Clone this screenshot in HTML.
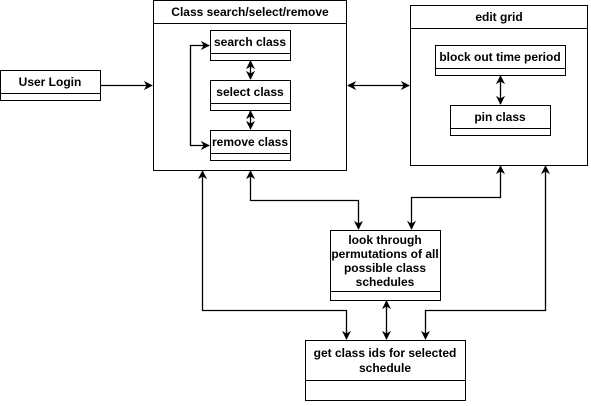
<!DOCTYPE html>
<html><head><style>body{margin:0;background:#fff}</style></head><body>
<svg width="591" height="401" xmlns="http://www.w3.org/2000/svg" font-family="Liberation Sans, Arial, sans-serif" font-weight="bold" font-size="12">
<defs><marker id="a" viewBox="0 0 10 10" refX="9" refY="5" markerWidth="7" markerHeight="7" orient="auto-start-reverse"><path d="M0,0 L10,5 L0,10 L3,5z" fill="#000"/></marker></defs>
<g fill="#fff" stroke="#000">
<rect x="0.5" y="70.5" width="100" height="30"/><line x1="0" y1="93.5" x2="101" y2="93.5"/>
<rect x="153.5" y="0.5" width="193" height="170"/><line x1="153" y1="23.5" x2="347" y2="23.5"/>
<rect x="210.5" y="30.5" width="80" height="30"/><line x1="210" y1="53.5" x2="291" y2="53.5"/>
<rect x="210.5" y="80.5" width="80" height="30"/><line x1="210" y1="103.5" x2="291" y2="103.5"/>
<rect x="210.5" y="130.5" width="80" height="30"/><line x1="210" y1="153.5" x2="291" y2="153.5"/>
<rect x="410.5" y="5.5" width="177" height="160"/><line x1="410" y1="28.5" x2="588" y2="28.5"/>
<rect x="435.5" y="45.5" width="130" height="30"/><line x1="435" y1="68.5" x2="566" y2="68.5"/>
<rect x="450.5" y="105.5" width="100" height="30"/><line x1="450" y1="128.5" x2="551" y2="128.5"/>
<rect x="330.5" y="230.5" width="110" height="70"/><line x1="330" y1="291.5" x2="441" y2="291.5"/>
<rect x="305.5" y="340.5" width="160" height="60"/><line x1="305" y1="380.5" x2="466" y2="380.5"/>
</g>
<g fill="none" stroke="#000" stroke-width="1.3">
<path d="M100,85.5 H152" marker-end="url(#a)"/>
<path d="M209,45.5 H190.5 V145.5 H209" marker-start="url(#a)" marker-end="url(#a)"/>
<path d="M250.5,61 V79" marker-start="url(#a)" marker-end="url(#a)"/>
<path d="M250.5,111 V129" marker-start="url(#a)" marker-end="url(#a)"/>
<path d="M348,85.5 H409" marker-start="url(#a)" marker-end="url(#a)"/>
<path d="M500.5,76 V104" marker-start="url(#a)" marker-end="url(#a)"/>
<path d="M250.5,171 V200.5 H358.5 V229" marker-start="url(#a)" marker-end="url(#a)"/>
<path d="M500.5,166 V197.5 H411.5 V229" marker-start="url(#a)" marker-end="url(#a)"/>
<path d="M202.5,171 V310.5 H346.5 V339" marker-start="url(#a)" marker-end="url(#a)"/>
<path d="M545.5,166 V310.5 H425.5 V339" marker-start="url(#a)" marker-end="url(#a)"/>
<path d="M386.5,301 V339" marker-start="url(#a)" marker-end="url(#a)"/>
</g>
<g text-anchor="middle" fill="#000">
<text x="50" y="86">User Login</text>
<text x="250" y="16">Class search/select/remove</text>
<text x="250" y="46">search class</text>
<text x="250" y="96">select class</text>
<text x="250" y="146">remove class</text>
<text x="499" y="21">edit grid</text>
<text x="500" y="61">block out time period</text>
<text x="500" y="121">pin class</text>
<text x="385" y="244">look through</text>
<text x="385" y="258">permutations of all</text>
<text x="385" y="272">possible class</text>
<text x="385" y="286">schedules</text>
<text x="385" y="357">get class ids for selected</text>
<text x="385" y="372">schedule</text>
</g>
</svg>
</body></html>
